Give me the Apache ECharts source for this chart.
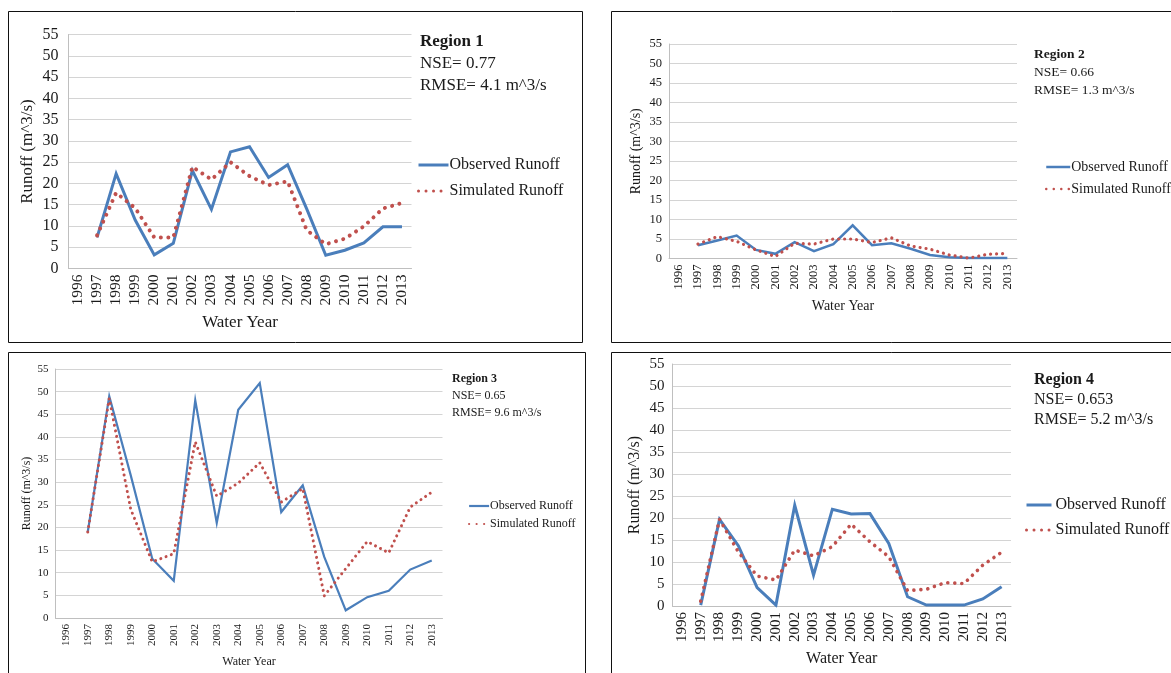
<!DOCTYPE html>
<html>
<head>
<meta charset="utf-8">
<script src="https://cdn.jsdelivr.net/npm/echarts@6/dist/echarts.min.js"></script>
<style>
  html, body { margin: 0; padding: 0; background: #fff; }
  #chart { width: 1171px; height: 673px; }
</style>
</head>
<body>
<div id="chart"></div>
<script>
// water years on the category axis
const years = ['1996', '1997', '1998', '1999', '2000', '2001', '2002', '2003', '2004',
  '2005', '2006', '2007', '2008', '2009', '2010', '2011', '2012', '2013']

// runoff values (m^3/s), 1996 has no value
const observed1 = [null, 7.3, 22.3, 11.4, 3.2, 5.9, 23.0, 13.9, 27.4, 28.6, 21.4, 24.4, 14.0, 3.1, 4.3, 6.0, 9.8, 9.8]
const simulated1 = [null, 7.8, 17.8, 14.2, 7.3, 7.3, 23.9, 20.9, 25.0, 21.7, 19.6, 20.5, 9.0, 5.7, 7.0, 9.9, 14.1, 15.4]

const observed2 = [null, 3.4, 4.6, 5.9, 2.2, 1.2, 4.2, 1.9, 3.7, 8.5, 3.4, 3.9, 2.5, 0.9, 0.3, 0.1, 0.1, 0.1]
const simulated2 = [null, 3.7, 5.6, 4.4, 2.2, 0.5, 3.9, 3.7, 5.0, 5.0, 4.1, 5.3, 3.2, 2.4, 0.9, 0.1, 1.1, 1.3]

const observed3 = [null, 19.0, 49.0, 31.5, 13.1, 8.2, 48.1, 21.0, 46.0, 51.9, 23.4, 29.3, 13.5, 1.7, 4.6, 6.0, 10.7, 12.7]
const simulated3 = [null, 19.0, 48.5, 24.0, 12.4, 14.2, 38.9, 26.9, 29.8, 34.3, 25.6, 28.6, 4.9, 10.9, 16.9, 14.4, 24.5, 27.8]

const observed4 = [null, 0.2, 19.7, 13.7, 4.2, 0.2, 22.9, 7.0, 22.0, 20.9, 21.0, 14.2, 2.1, 0.2, 0.2, 0.2, 1.6, 4.4]
const simulated4 = [null, 1.1, 19.7, 12.3, 6.8, 5.9, 12.7, 11.4, 13.5, 18.6, 14.6, 11.2, 3.5, 3.8, 5.3, 5.1, 9.3, 12.2]

const regionNames = ['Region 1', 'Region 2', 'Region 3', 'Region 4']
const nseLabels = ['NSE= 0.77', 'NSE= 0.66', 'NSE= 0.65', 'NSE= 0.653']
const rmseLabels = ['RMSE= 4.1 m^3/s', 'RMSE= 1.3 m^3/s', 'RMSE= 9.6 m^3/s', 'RMSE= 5.2 m^3/s']

const seriesData = [
  [observed1, simulated1],
  [observed2, simulated2],
  [observed3, simulated3],
  [observed4, simulated4],
]

const FONT = '"Liberation Serif", "Times New Roman", serif'
const BLUE = '#4a7ebb'
const RED = '#c0504d'
const TEXT = '#1a1a1a'

// layout of each panel (pixels)
// legend: [left, top, itemWidth, itemGap, fontSize, textPad]
const panels = [
  { frame: [8, 11, 574, 331], grid: [68.5, 34.5, 343, 234], fs: 16, xfs: 15.5, nfs: 17, yGap: 32, xGap: 46, ym: 10,
    text: [420, 41, 22, 17], legend: [417, 157, 30, 10, 16, -4], lw: 3, dot: 4, period: 7.5 },
  { frame: [611, 11, 620, 331], grid: [669, 44, 348, 214.5], fs: 12.5, xfs: 12.5, nfs: 14, yGap: 26, xGap: 41, ym: 7,
    text: [1034, 54, 18, 13.5], legend: [1045, 160, 24, 8, 14, -4], lw: 2.5, dot: 3.2, period: 6 },
  { frame: [8, 352, 577, 400], grid: [55.5, 369, 387, 249], fs: 11, xfs: 11, nfs: 12, yGap: 23, xGap: 38, ym: 7,
    text: [452, 378, 17, 12], legend: [468, 500, 20, 6, 12, -4], lw: 2.2, dot: 3, period: 5.6 },
  { frame: [611, 352, 620, 400], grid: [672.5, 364, 338.5, 242], fs: 15, xfs: 15, nfs: 16, yGap: 30, xGap: 45, ym: 8,
    text: [1034, 379, 20, 16], legend: [1025, 497, 25, 9, 16, -1], lw: 3, dot: 3.6, period: 7 },
]

const chart = echarts.init(document.getElementById('chart'))

const grids = panels.map(p => ({
  left: p.grid[0], top: p.grid[1], width: p.grid[2], height: p.grid[3], containLabel: false,
}))

const xAxes = panels.map((p, i) => ({
  type: 'category',
  gridIndex: i,
  data: years,
  boundaryGap: true,
  name: 'Water Year',
  nameLocation: 'middle',
  nameGap: p.xGap,
  nameTextStyle: { fontFamily: FONT, fontSize: p.nfs, color: TEXT },
  axisLine: { lineStyle: { color: '#bfbfbf', width: 1 } },
  axisTick: { show: false },
  axisLabel: { rotate: 90, interval: 0, fontFamily: FONT, fontSize: p.xfs, color: TEXT, margin: 6 },
}))

const yAxes = panels.map((p, i) => ({
  type: 'value',
  gridIndex: i,
  min: 0,
  max: 55,
  interval: 5,
  name: 'Runoff (m^3/s)',
  nameLocation: 'middle',
  nameGap: p.yGap,
  nameTextStyle: { fontFamily: FONT, fontSize: p.nfs, color: TEXT },
  axisLine: { show: true, lineStyle: { color: '#bfbfbf', width: 1 } },
  axisTick: { show: false },
  axisLabel: { fontFamily: FONT, fontSize: p.fs, color: TEXT, margin: p.ym },
  splitLine: { lineStyle: { color: '#d4d4d4', width: 1 } },
}))

const series = []
panels.forEach((p, i) => {
  series.push({
    name: 'Observed Runoff',
    type: 'line',
    xAxisIndex: i,
    yAxisIndex: i,
    data: seriesData[i][0],
    symbol: 'none',
    lineStyle: { color: BLUE, width: p.lw, join: 'miter' },
    itemStyle: { color: BLUE },
    z: 3,
  })
  series.push({
    name: 'Simulated Runoff',
    type: 'line',
    xAxisIndex: i,
    yAxisIndex: i,
    data: seriesData[i][1],
    symbol: 'none',
    lineStyle: { color: RED, width: p.dot, type: [0.01, p.period], cap: 'round' },
    itemStyle: { color: RED },
    z: 4,
  })
})

const legends = panels.map(p => ({
  orient: 'vertical',
  left: p.legend[0],
  top: p.legend[1],
  padding: 0,
  itemWidth: p.legend[2],
  itemHeight: 12,
  itemGap: p.legend[3],
  selectedMode: false,
  itemStyle: { opacity: 0 },
  lineStyle: { width: p.lw },
  data: ['Observed Runoff', 'Simulated Runoff'],
  textStyle: { fontFamily: FONT, fontSize: p.legend[4], color: TEXT, padding: [0, 0, 0, p.legend[5]] },
}))

const graphic = []
panels.forEach((p, i) => {
  graphic.push({
    type: 'rect',
    shape: { x: p.frame[0] + 0.5, y: p.frame[1] + 0.5, width: p.frame[2], height: p.frame[3] },
    style: { fill: 'none', stroke: '#111', lineWidth: 1 },
    silent: true,
    z: -1,
  })
  const [tx, ty, gap, fs] = p.text
  const lines = [regionNames[i], nseLabels[i], rmseLabels[i]]
  lines.forEach((t, k) => {
    graphic.push({
      type: 'text',
      left: tx,
      top: ty + k * gap - fs * 0.45,
      style: {
        text: t,
        font: (k === 0 ? 'bold ' : '') + fs + 'px ' + FONT,
        fill: TEXT,
      },
      silent: true,
    })
  })
})

chart.setOption({
  backgroundColor: '#fff',
  animation: false,
  grid: grids,
  xAxis: xAxes,
  yAxis: yAxes,
  legend: legends,
  series: series,
  graphic: graphic,
})

window.addEventListener('resize', () => chart.resize())
</script>
</body>
</html>
